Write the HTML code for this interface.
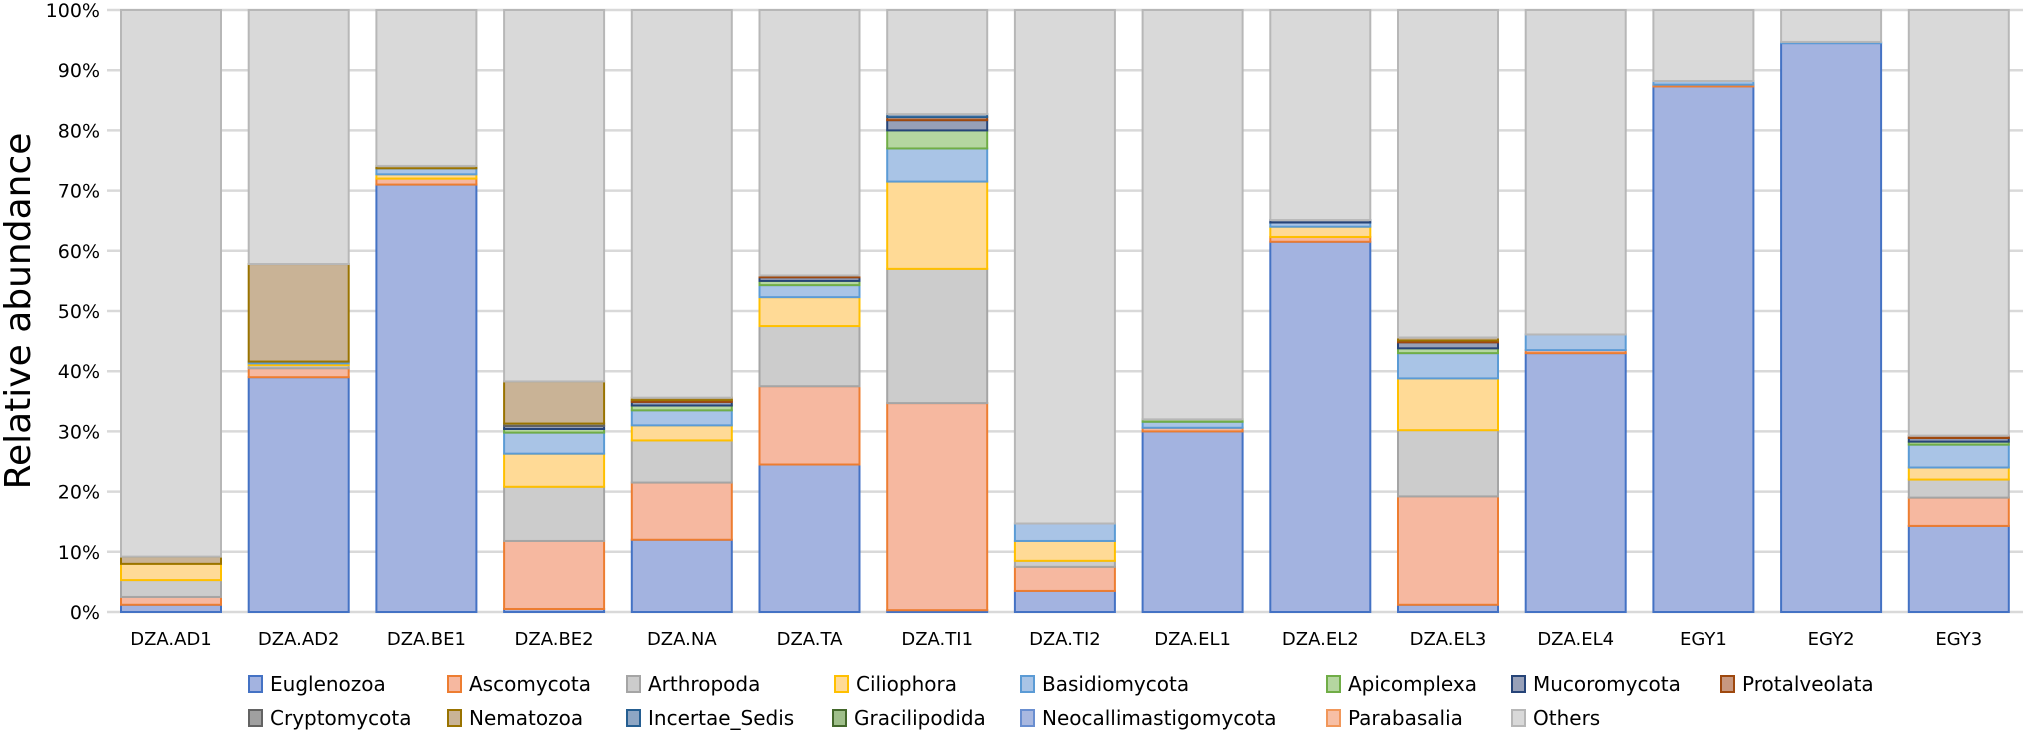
<!DOCTYPE html>
<html><head><meta charset="utf-8"><style>
body{margin:0;background:#fff;}
text{font-family:"DejaVu Sans","Liberation Sans",sans-serif;fill:#000;}
</style></head><body>
<svg id="s" width="2023" height="732" xmlns="http://www.w3.org/2000/svg"></svg>
<script>
const S=document.getElementById('s');
const ns='http://www.w3.org/2000/svg';
function el(t,a,txt){const e=document.createElementNS(ns,t);for(const k in a)e.setAttribute(k,a[k]);if(txt!==undefined)e.textContent=txt;S.appendChild(e);return e;}
const y0=612,pp=6.02;
const C=[['#a3b3e0','#4472c4'],['#f6b8a0','#ed7d31'],['#cccccc','#a5a5a5'],['#ffda96','#ffc000'],['#a9c4e6','#5b9bd5'],['#b5d6a0','#70ad47'],['#97a0b8','#264478'],['#c89880','#9e480e'],['#a0a0a0','#636363'],['#c9b396','#997300'],['#8ea6c4','#255e91'],['#9fbf8a','#43682b'],['#a9b8e0','#698ed0'],['#f7bfa5','#f1975a'],['#d9d9d9','#b7b7b7']];
for(let i=0;i<=10;i++){const y=y0-i*10*pp;el('line',{x1:107,x2:2023,y1:y,y2:y,stroke:'#d9d9d9','stroke-width':2.5});
el('text',{x:100,y:y+7,'text-anchor':'end','font-size':19},(i*10)+'%');}
const D=[
['DZA.AD1',[1.2,1.3,2.8,2.7,0,0,0,0,0,1.2]],
['DZA.AD2',[39,1.5,0.5,0.3,0.3,0,0,0,0,16.2]],
['DZA.BE1',[71,1,0,0.7,1,0,0,0,0,0.4]],
['DZA.BE2',[0.5,11.3,9,5.5,3.5,0.6,0.5,0,0.4,7]],
['DZA.NA',[12,9.5,7,2.5,2.5,0.8,0.6,0.3,0,0.4]],
['DZA.TA',[24.5,13,10,4.8,2,0.7,0.6,0.3]],
['DZA.TI1',[0.3,34.4,22.3,14.5,5.5,3,1.7,0.5,0,0,0.5]],
['DZA.TI2',[3.5,4,1,3.3,2.9]],
['DZA.EL1',[30,0.6,0,0,1,0.4]],
['DZA.EL2',[61.5,0.8,0,1.7,0.7,0,0.4]],
['DZA.EL3',[1.2,18,11,8.6,4.2,0.8,1,0.3,0,0.5]],
['DZA.EL4',[43,0.5,0,0,2.6]],
['EGY1',[87.3,0.3,0,0,0.6]],
['EGY2',[94.5,0,0,0,0.2]],
['EGY3',[14.3,4.7,3,2,3.8,0.5,0.6,0.4]]];
D.forEach((d,i)=>{const cx=171+i*127.7,x=cx-50,w=100;let cum=0;
 const v=d[1].slice();let s=v.reduce((a,b)=>a+b,0);
 const segs=v.map((val,k)=>[val,k]).filter(a=>a[0]>0);segs.push([100-s,14]);
 segs.forEach(([val,k])=>{const yb=y0-cum*pp,yt=y0-(cum+val)*pp;
  el('rect',{x:x,y:yt,width:w,height:yb-yt,fill:C[k][0],stroke:C[k][1],'stroke-width':2});cum+=val;});
 el('text',{x:cx,y:645,'text-anchor':'middle','font-size':18},d[0]);});
el('text',{x:0,y:0,'font-size':36,'text-anchor':'middle',transform:'translate(30,311) rotate(-90)'},'Relative abundance');
const L=[['Euglenozoa',249,0],['Ascomycota',448,1],['Arthropoda',627,2],['Ciliophora',835,3],['Basidiomycota',1021,4],['Apicomplexa',1327,5],['Mucoromycota',1512,6],['Protalveolata',1721,7],
['Cryptomycota',249,8],['Nematozoa',448,9],['Incertae_Sedis',627,10],['Gracilipodida',833,11],['Neocallimastigomycota',1021,12],['Parabasalia',1327,13],['Others',1512,14]];
L.forEach((l,i)=>{const y=i<8?684:718;
 el('rect',{x:l[1],y:y-8,width:13,height:16,fill:C[l[2]][0],stroke:C[l[2]][1],'stroke-width':2});
 el('text',{x:l[1]+21,y:y+7,'font-size':20},l[0]);});
</script>
</body></html>
